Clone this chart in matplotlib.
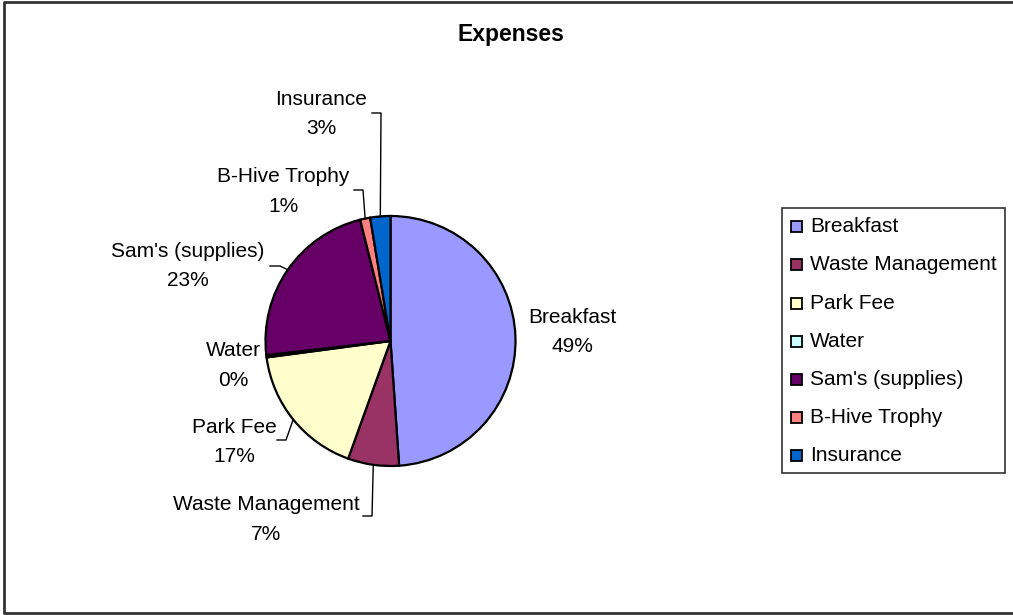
"""Expenses pie chart."""
import numpy as np
import matplotlib
matplotlib.use('Agg')
from matplotlib import pyplot as plt
from matplotlib.patches import Rectangle

categories = ['Breakfast', 'Waste Management', 'Park Fee', 'Water',
              "Sam's (supplies)", 'B-Hive Trophy', 'Insurance']
values = [48.9, 6.6, 17.4, 0.3, 22.9, 1.3, 2.6]
colors = ['#9999FF', '#993366', '#FFFFCC', '#CCFFFF',
          '#660066', '#FF8080', '#0066CC']

# label layout in pixel coords: text centre x, baseline of name line,
# leader elbow and leader end (None = no leader)
label_x = [572.5, 266, 234, 233, 188, 283, 321]
label_y = [323, 510, 433, 356.5, 257, 182, 105]
leader = [None, ((372, 516), (363, 516)), ((286, 440), (277, 440)), None,
          ((280, 266), (270, 266)), ((363, 190), (354, 190)),
          ((381, 113), (372, 113))]

plt.rcParams['font.family'] = ['Liberation Sans', 'DejaVu Sans']

fig = plt.figure(figsize=(10.13, 6.15), dpi=100)
ax = fig.add_axes([0, 0, 1, 1])

cx, cy, r = 390.5, 341, 125
wedges, _ = ax.pie(values, colors=colors, startangle=-90, counterclock=True,
                   center=(cx, cy), radius=r,
                   wedgeprops=dict(edgecolor='black', linewidth=1.6))
ax.set_xlim(0, 1013)
ax.set_ylim(615, 0)
ax.axis('off')

total = sum(values)
for i, w in enumerate(wedges):
    pct = '%.0f%%' % (values[i] / total * 100)
    ax.text(label_x[i], label_y[i], categories[i], ha='center',
            va='baseline', fontsize=15)
    ax.text(label_x[i], label_y[i] + 29.5, pct, ha='center',
            va='baseline', fontsize=15)
    if leader[i] is not None:
        mid = np.deg2rad((w.theta1 + w.theta2) / 2)
        px, py = cx + r * np.cos(mid), cy + r * np.sin(mid)
        (ex, ey), (tx, ty) = leader[i]
        ax.plot([px, ex, tx], [py, ey, ty], color='black', linewidth=1)

ax.text(511, 35, 'Expenses', ha='center', va='center', fontsize=16.5,
        fontweight='bold')

# legend
ax.add_patch(Rectangle((782, 207.5), 223, 265, facecolor='white',
                       edgecolor='#333333', linewidth=1.2))
for i, name in enumerate(categories):
    ly = 226.7 + 38.2 * i
    ax.add_patch(Rectangle((790.5, ly - 5.5), 11, 11, facecolor=colors[i],
                           edgecolor='black', linewidth=1.3))
    ax.text(810, ly, name, ha='left', va='center', fontsize=15)

# outer frame (left, top, bottom)
ax.plot([1013, 3.5, 3.5, 1013], [1.5, 1.5, 612.5, 612.5],
        color='#333333', linewidth=2)

fig.savefig('out.png', dpi=100)
